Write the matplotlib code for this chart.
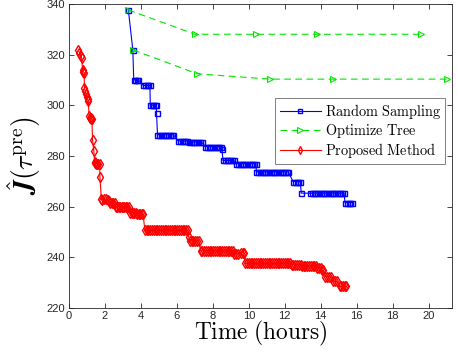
import matplotlib
matplotlib.use("Agg")
import matplotlib.pyplot as plt

# ---------------- data ----------------
# Random Sampling (blue squares)
rs_time = [3.30, 3.55,
           3.60, 3.68, 3.76, 3.85,
           4.13, 4.22, 4.32, 4.42, 4.50,
           4.52, 4.60, 4.68, 4.76, 4.85,
           4.87,
           4.92, 5.02, 5.12, 5.22, 5.32, 5.42, 5.52, 5.62, 5.72, 5.80,
           6.07, 6.17, 6.27, 6.37, 6.47, 6.57,
           6.67, 6.77, 6.87, 6.97, 7.07, 7.17, 7.27, 7.37,
           7.56, 7.66, 7.76, 7.86, 7.96, 8.06, 8.16, 8.26, 8.36, 8.46,
           8.50,
           8.57, 8.67, 8.77, 8.87, 8.97, 9.07, 9.17,
           9.30, 9.40, 9.50, 9.60, 9.70, 9.80, 9.90, 10.00, 10.10, 10.20, 10.30, 10.40,
           10.42, 10.52, 10.62, 10.72, 10.82, 10.92, 11.02, 11.12, 11.22, 11.32,
           11.42, 11.52, 11.62, 11.72, 11.82, 11.92, 12.02, 12.12, 12.20,
           12.46, 12.56, 12.66, 12.76, 12.86,
           12.92, 13.40, 13.50, 13.60, 13.70, 13.80, 13.90, 14.00, 14.10, 14.20,
           14.30, 14.40, 14.50, 14.60, 14.70, 14.80, 14.90, 15.00, 15.10, 15.20, 15.30,
           15.35, 15.45, 15.55, 15.65, 15.75]
rs_cost = [337.6, 321.8,
           310.0, 310.0, 310.0, 310.0,
           307.8, 307.8, 307.8, 307.8, 307.8,
           300.0, 300.0, 300.0, 300.0, 300.0,
           296.8,
           288.4, 288.4, 288.4, 288.4, 288.4, 288.4, 288.4, 288.4, 288.4, 288.4,
           285.9, 285.9, 285.9, 285.9, 285.9, 285.9,
           285.5, 285.5, 285.5, 285.5, 285.5, 285.5, 285.5, 285.5,
           283.7, 283.7, 283.7, 283.7, 283.7, 283.7, 283.7, 283.7, 283.7, 283.7,
           282.8,
           278.2, 278.2, 278.2, 278.2, 278.2, 278.2, 278.2,
           277.0, 277.0, 277.0, 277.0, 277.0, 277.0, 277.0, 277.0, 277.0, 277.0, 277.0, 277.0,
           273.7, 273.7, 273.7, 273.7, 273.7, 273.7, 273.7, 273.7, 273.7, 273.7,
           273.7, 273.7, 273.7, 273.7, 273.7, 273.7, 273.7, 273.7, 273.7,
           269.9, 269.9, 269.9, 269.9, 269.9,
           265.3, 265.3, 265.3, 265.3, 265.3, 265.3, 265.3, 265.3, 265.3, 265.3,
           265.3, 265.3, 265.3, 265.3, 265.3, 265.3, 265.3, 265.3, 265.3, 265.3, 265.3,
           261.6, 261.6, 261.6, 261.6, 261.6]

# Optimize Tree (green triangles, two runs)
ot1_time = [3.30, 7.00, 10.40, 13.80, 19.60]
ot1_cost = [337.6, 328.0, 328.0, 328.0, 328.0]
ot2_time = [3.57, 7.13, 11.20, 14.70, 21.00]
ot2_cost = [321.8, 312.4, 310.3, 310.3, 310.3]

# Proposed Method (red diamonds)
pm_time = [0.52, 0.58, 0.65, 0.70,
           0.76, 0.80, 0.84,
           0.86, 0.90, 0.93, 1.00, 1.04, 1.07,
           1.12, 1.16, 1.20, 1.25, 1.27,
           1.31, 1.38,
           1.42, 1.46, 1.52, 1.58, 1.64, 1.70,
           1.72,
           1.80, 1.86, 1.95, 2.05, 2.15, 2.25,
           2.30, 2.38, 2.46, 2.54,
           2.60, 2.68, 2.76, 2.84, 2.92, 3.00, 3.08, 3.16, 3.24, 3.32,
           3.40, 3.48, 3.56, 3.64, 3.72,
           3.80, 3.88, 3.96, 4.04, 4.12,
           4.22, 4.32, 4.42, 4.52, 4.62, 4.72, 4.82, 4.92, 5.02, 5.12, 5.22, 5.32,
           5.42, 5.52, 5.62, 5.72, 5.82, 5.92, 6.02, 6.12, 6.22, 6.32, 6.42, 6.52, 6.62,
           6.66,
           6.72, 6.82, 6.92, 7.02, 7.12, 7.22,
           7.32, 7.42, 7.52, 7.62, 7.72, 7.82, 7.92, 8.02, 8.12, 8.22, 8.32, 8.42,
           8.52, 8.62, 8.72, 8.82, 8.92, 9.02, 9.10,
           9.20, 9.30, 9.40,
           9.55, 9.65, 9.72,
           9.80, 9.90, 10.00, 10.10, 10.20, 10.30, 10.40, 10.50, 10.60, 10.70, 10.80,
           10.90, 11.00, 11.10, 11.20, 11.30, 11.40, 11.50, 11.60, 11.70, 11.80, 11.90,
           12.00, 12.10, 12.20, 12.28,
           12.38, 12.48, 12.58, 12.68, 12.78, 12.88,
           12.95, 13.05, 13.15, 13.25, 13.35, 13.45, 13.55, 13.65, 13.75,
           13.82, 13.90, 14.00,
           14.06, 14.12,
           14.25, 14.35, 14.45, 14.55,
           14.70, 14.80, 14.90,
           15.05, 15.15, 15.25, 15.35, 15.43]
pm_cost = [321.8, 320.8, 319.5, 318.8,
           313.8, 313.2, 312.8,
           306.8, 305.5, 304.6, 303.2, 302.5, 301.8,
           295.6, 295.0, 294.6, 294.9, 294.6,
           286.3, 282.1,
           277.6, 277.2, 277.0, 277.0, 276.8, 276.8,
           271.7,
           263.0, 262.8, 262.9, 263.0, 262.7, 262.3,
           261.3, 261.3, 261.3, 261.3,
           260.0, 260.0, 260.0, 260.0, 260.0, 260.0, 260.0, 260.0, 260.0, 260.0,
           257.6, 257.6, 257.6, 257.6, 257.6,
           257.0, 257.0, 257.0, 257.0, 257.0,
           250.6, 250.6, 250.6, 250.6, 250.6, 250.6, 250.6, 250.6, 250.6, 250.6, 250.6, 250.6,
           250.6, 250.6, 250.6, 250.6, 250.6, 250.6, 250.6, 250.6, 250.6, 250.6, 250.6, 250.6, 250.6,
           248.0,
           246.5, 246.5, 246.5, 246.5, 246.5, 246.5,
           242.6, 242.6, 242.6, 242.6, 242.6, 242.6, 242.6, 242.6, 242.6, 242.6, 242.6, 242.6,
           242.6, 242.6, 242.6, 242.6, 242.6, 242.6, 242.6,
           241.4, 241.4, 241.4,
           241.8, 241.8, 241.8,
           237.6, 237.6, 237.6, 237.6, 237.6, 237.6, 237.6, 237.6, 237.6, 237.6, 237.6,
           237.6, 237.6, 237.6, 237.6, 237.6, 237.6, 237.6, 237.6, 237.6, 237.6, 237.6,
           237.6, 237.6, 237.6, 237.6,
           237.1, 237.1, 237.1, 237.1, 237.1, 237.1,
           236.7, 236.7, 236.7, 236.7, 236.7, 236.7, 236.7, 236.7, 236.7,
           235.8, 235.8, 235.8,
           234.8, 234.8,
           232.4, 232.4, 232.4, 232.4,
           230.5, 230.5, 230.5,
           228.5, 228.5, 228.5, 228.5, 228.5]

x_ticks = [0, 2, 4, 6, 8, 10, 12, 14, 16, 18, 20]
y_ticks = [220, 240, 260, 280, 300, 320, 340]

# ---------------- plot ----------------
plt.rcParams['mathtext.fontset'] = 'cm'
plt.rcParams['font.family'] = ['Liberation Sans', 'DejaVu Sans']

fig = plt.figure(figsize=(4.57, 3.5), dpi=100)
ax = fig.add_axes([0.151, 0.12, 0.838, 0.869])

ax.plot(rs_time, rs_cost, color='#0000ff', lw=0.8, marker='s', ms=3.6,
        mfc='none', mew=1.0, label=r'$\mathrm{Random\ Sampling}$', zorder=3)
ax.plot(ot1_time, ot1_cost, color='#00e600', lw=0.8, ls=(0, (6, 4)), marker='>',
        ms=5, mfc='none', mew=0.8, label=r'$\mathrm{Optimize\ Tree}$', zorder=4)
ax.plot(ot2_time, ot2_cost, color='#00e600', lw=0.8, ls=(0, (6, 4)), marker='>',
        ms=5, mfc='none', mew=0.8, zorder=4)
ax.plot(pm_time, pm_cost, color='#ff0000', lw=0.8, marker='d', ms=4.8,
        mfc='none', mew=1.0, label=r'$\mathrm{Proposed\ Method}$', zorder=3)

ax.set_xlim(0, 21.3)
ax.set_ylim(220, 340)
ax.set_xticks(x_ticks)
ax.set_yticks(y_ticks)
ax.tick_params(direction='in', top=True, right=True, length=3.5, width=0.6,
               labelsize=8, colors='#262626')
ax.tick_params(axis='x', pad=2)
ax.tick_params(axis='y', pad=3)
for s in ax.spines.values():
    s.set_linewidth(0.6)
    s.set_color('#262626')

ax.set_xlabel(r'$\mathrm{Time\ (hours)}$', fontsize=16.8, labelpad=-1)
ax.set_ylabel(r'$\hat{\boldsymbol{J}}(\tau^{\mathrm{pre}})$', fontsize=20, labelpad=2)

leg = ax.legend(loc='upper right', bbox_to_anchor=(0.983, 0.692), borderaxespad=0,
                fontsize=10.3, handlelength=2.9, handletextpad=0.25, borderpad=0.3,
                labelspacing=0.08, fancybox=False, framealpha=1,
                edgecolor='#808080', markerscale=0.8)
leg.get_frame().set_linewidth(0.7)

fig.savefig('out.png', dpi=100)
